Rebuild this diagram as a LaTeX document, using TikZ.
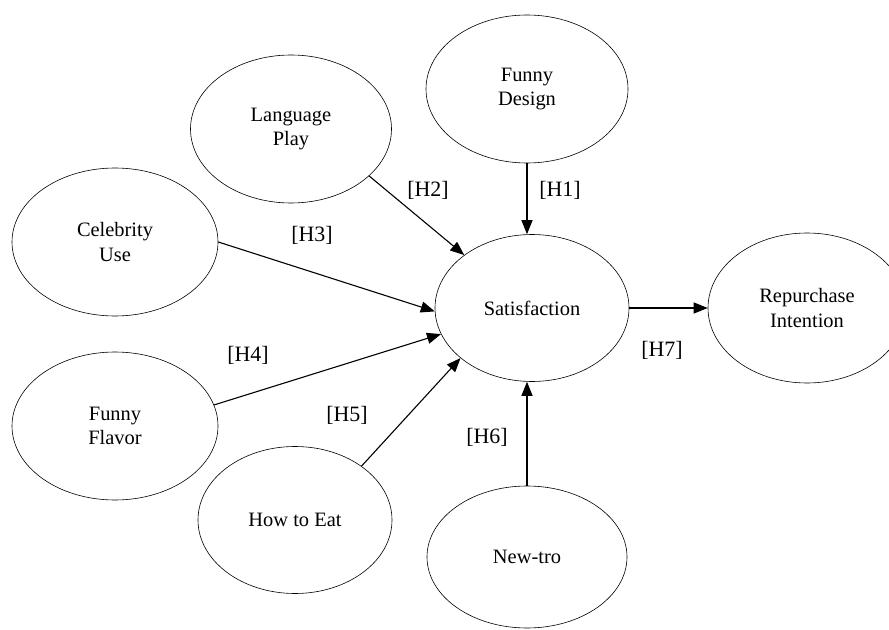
\documentclass[tikz,border=0pt]{standalone}
\usepackage{fontspec}
\setmainfont{Liberation Serif}
\usetikzlibrary{shapes.geometric,arrows.meta}
\begin{document}
\begin{tikzpicture}[x=1bp,y=-1bp,
  construct/.style={ellipse,draw,line width=0.6bp,inner sep=0pt,align=center,
    font=\fontsize{20.5}{24.5}\selectfont},
  hyp/.style={font=\fontsize{22}{26}\selectfont,inner sep=0pt},
  link/.style={line width=1.1bp,-{Triangle[length=14bp,width=11bp]}}]
\useasboundingbox (0,0) rectangle (889,630);
\node[construct,minimum width=202bp,minimum height=148bp] (fd) at (527,89) {Funny\\Design};
\node[construct,minimum width=201bp,minimum height=148bp] (lp) at (291,129) {Language\\Play};
\node[construct,minimum width=206bp,minimum height=148bp] (cel) at (115,242) {Celebrity\\Use};
\node[construct,minimum width=194bp,minimum height=147bp] (sat) at (532,308) {Satisfaction};
\node[construct,minimum width=198bp,minimum height=150bp] (ri) at (807,308) {Repurchase\\Intention};
\node[construct,minimum width=206bp,minimum height=148bp] (ff) at (115,426) {Funny\\Flavor};
\node[construct,minimum width=194bp,minimum height=147bp] (hte) at (295,520) {How to Eat};
\node[construct,minimum width=200bp,minimum height=142bp] (nt) at (527,557) {New-tro};

\draw[link] (fd.south) -- (fd.south |- sat.north);
\draw[link] (lp.-31) -- (sat.142);
\draw[link] (cel.east) -- (sat.182);
\draw[link] (ff.12) -- (sat.196);
\draw[link] (hte.39) -- (sat.215);
\draw[link] (nt.north) -- (nt.north |- sat.south);
\draw[link] (sat.east) -- (ri.west);

\node[hyp] (h1) at (560,190) {[H1]};
\node[hyp] (h2) at (428,190) {[H2]};
\node[hyp] (h3) at (312,235) {[H3]};
\node[hyp] (h4) at (248,355) {[H4]};
\node[hyp] (h5) at (347,415) {[H5]};
\node[hyp] (h6) at (487,437) {[H6]};
\node[hyp] (h7) at (662,350) {[H7]};
\end{tikzpicture}
\end{document}
